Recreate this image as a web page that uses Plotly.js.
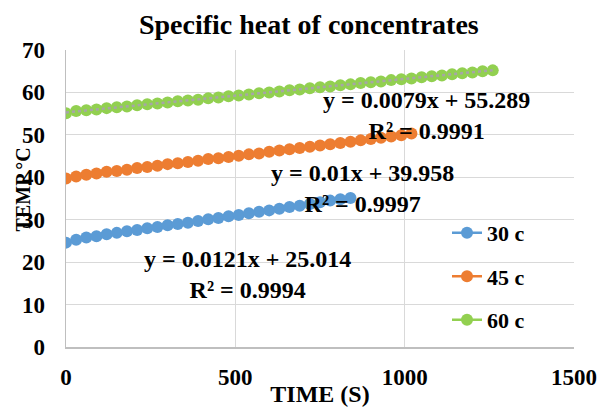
<!DOCTYPE html>
<html>
<head>
<meta charset="utf-8">
<script src="https://cdn.plot.ly/plotly-3.0.1.min.js"></script>
<style>
  html, body { margin: 0; padding: 0; background: #ffffff; }
  #chart { width: 602px; height: 407px; }
</style>
</head>
<body>
<div id="chart"></div>
<script>
// Sampling times (s), every 30 s
const timeS = [0, 30, 60, 90, 120, 150, 180, 210, 240, 270, 300, 330, 360, 390, 420,
  450, 480, 510, 540, 570, 600, 630, 660, 690, 720, 750, 780, 810, 840, 870, 900,
  930, 960, 990, 1020, 1050, 1080, 1110, 1140, 1170, 1200, 1230, 1260];

// Temperature readings (°C)
const temp30 = [24.6, 25.3, 25.8, 26.1, 26.6, 26.9, 27.3, 27.6, 28.0, 28.3, 28.7, 29.0,
  29.3, 29.7, 30.1, 30.4, 30.8, 31.1, 31.5, 31.9, 32.2, 32.6, 33.0, 33.3, 33.7, 34.1,
  34.5, 34.8, 35.1];
const temp45 = [39.7, 40.2, 40.6, 40.9, 41.3, 41.5, 41.8, 42.2, 42.4, 42.7, 43.1, 43.3,
  43.6, 43.9, 44.3, 44.5, 44.8, 45.1, 45.4, 45.6, 46.0, 46.3, 46.6, 46.9, 47.2, 47.5,
  47.8, 48.1, 48.4, 48.7, 49.0, 49.3, 49.6, 49.9, 50.3];
const temp60 = [55.1, 55.6, 55.8, 56.0, 56.3, 56.5, 56.7, 57.0, 57.2, 57.4, 57.6, 57.9,
  58.1, 58.3, 58.6, 58.8, 59.1, 59.3, 59.5, 59.8, 60.0, 60.2, 60.5, 60.7, 61.0, 61.2,
  61.4, 61.7, 61.9, 62.2, 62.4, 62.6, 62.9, 63.1, 63.3, 63.6, 63.8, 64.0, 64.3, 64.5,
  64.7, 65.0, 65.2];

const seriesNames = ['30 c', '45 c', '60 c'];
const seriesColors = ['#5b9bd5', '#ed7d31', '#92d050'];

// Linear fits reported for each series
const fitSlope = [0.0121, 0.01, 0.0079];
const fitIntercept = [25.014, 39.958, 55.289];
const fitR2 = ['0.9994', '0.9997', '0.9991'];
const fitSlopeText = ['0.0121', '0.01', '0.0079'];
const fitInterceptText = ['25.014', '39.958', '55.289'];

const temps = [temp30, temp45, temp60];
const FONT = 'Liberation Serif, Times New Roman, serif';

function seriesTrace(i) {
  return {
    type: 'scatter', mode: 'lines+markers', name: seriesNames[i],
    legendgroup: 'g' + i,
    x: timeS.slice(0, temps[i].length), y: temps[i],
    line: { color: seriesColors[i], width: 2.5 },
    marker: { color: seriesColors[i], size: 12 }
  };
}

function trendTrace(i) {
  const xs = timeS.slice(0, temps[i].length);
  const x0 = xs[0], x1 = xs[xs.length - 1];
  return {
    type: 'scatter', mode: 'lines', showlegend: false, hoverinfo: 'skip',
    x: [x0, x1],
    y: [fitIntercept[i] + fitSlope[i] * x0, fitIntercept[i] + fitSlope[i] * x1],
    line: { color: '#a6a6a6', width: 2.5, dash: 'dot' }
  };
}

const data = [trendTrace(0), trendTrace(1), seriesTrace(0), seriesTrace(1), seriesTrace(2), trendTrace(2)];

// Equation label anchors (data coordinates)
const eqX = [536, 875, 1065];
const eqY = [17.2, 37.3, 54.6];

const annotations = [0, 1, 2].map(i => ({
  xref: 'x', yref: 'y', x: eqX[i], y: eqY[i],
  text: '<b>y = ' + fitSlopeText[i] + 'x + ' + fitInterceptText[i] + '<br>R² = ' + fitR2[i] + '</b>',
  showarrow: false, align: 'center', xanchor: 'center', yanchor: 'middle',
  font: { family: FONT, size: 24, color: '#000000' }
}));

annotations.push({
  xref: 'paper', yref: 'paper', x: -0.085, y: 0.53,
  text: '<b>TEMP °C</b>', textangle: -90, showarrow: false,
  xanchor: 'center', yanchor: 'middle',
  font: { family: FONT, size: 20, color: '#000000' }
});

const layout = {
  width: 602, height: 407,
  margin: { l: 66, r: 28, t: 50, b: 60 },
  paper_bgcolor: '#ffffff', plot_bgcolor: '#ffffff',
  title: {
    text: '<b>Specific heat of concentrates</b>',
    xref: 'container', yref: 'container', x: 0.513, y: 0.941,
    xanchor: 'center', yanchor: 'middle',
    font: { family: FONT, size: 28, color: '#000000' }
  },
  xaxis: {
    range: [0, 1500], tickvals: [0, 500, 1000, 1500], ticktext: ['0', '500', '1000', '1500'],
    showgrid: true, gridcolor: '#d9d9d9', gridwidth: 1,
    showline: true, linecolor: '#bfbfbf', linewidth: 1.5,
    zeroline: false, ticks: 'outside', ticklen: 9, tickcolor: 'rgba(0,0,0,0)',
    tickfont: { family: FONT, size: 23, color: '#000000', weight: 'bold' },
    title: {
      text: '<b>TIME (S)</b>', standoff: 12,
      font: { family: FONT, size: 24, color: '#000000' }
    }
  },
  yaxis: {
    range: [0, 70], dtick: 10,
    showgrid: true, gridcolor: '#d9d9d9', gridwidth: 1,
    showline: true, linecolor: '#bfbfbf', linewidth: 1.5,
    zeroline: false, ticks: 'outside', ticklen: 15, tickcolor: 'rgba(0,0,0,0)',
    tickfont: { family: FONT, size: 23, color: '#000000', weight: 'bold' }
  },
  legend: {
    x: 0.75, y: 0.455, xanchor: 'left', yanchor: 'top',
    bgcolor: 'rgba(255,255,255,0)', borderwidth: 0,
    traceorder: 'grouped', tracegroupgap: 12,
    font: { family: FONT, size: 22, color: '#000000', weight: 'bold' }
  },
  annotations: annotations
};

Plotly.newPlot('chart', data, layout, { displayModeBar: false, staticPlot: true });
</script>
</body>
</html>
